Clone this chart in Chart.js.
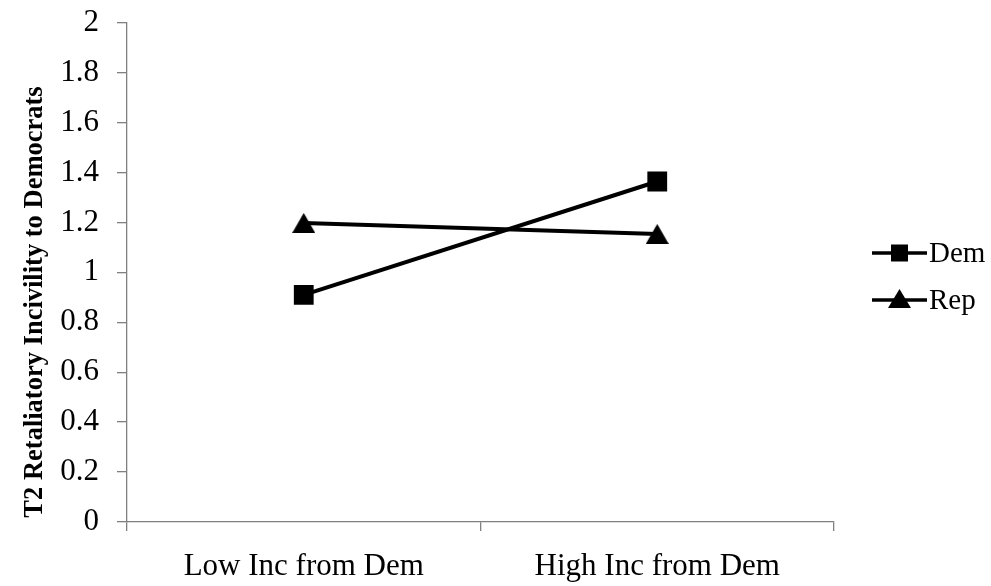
<!DOCTYPE html>
<html>
<head>
<meta charset="utf-8">
<script src="https://cdn.jsdelivr.net/npm/chart.js@4/dist/chart.umd.min.js"></script>
<style>
  html, body { margin: 0; padding: 0; background: #fff; }
  #wrap { width: 991px; height: 586px; }
</style>
</head>
<body>
<div id="wrap"><canvas id="chart" width="991" height="586"></canvas></div>
<script>
// values
const categories = ["Low Inc from Dem", "High Inc from Dem"];
const demValues = [0.91, 1.364];
const repValues = [1.198, 1.154];
const yTicks = [0, 0.2, 0.4, 0.6, 0.8, 1, 1.2, 1.4, 1.6, 1.8, 2];
const yTitle = "T2 Retaliatory Incivility to Democrats";

const serif = "'Liberation Serif', 'Times New Roman', serif";

// triangle marker centred in its own box (Excel puts the middle on the line)
function makeTriangle(w, h) {
  const c = document.createElement("canvas");
  c.width = w;
  c.height = h;
  const g = c.getContext("2d");
  g.fillStyle = "#000";
  g.beginPath();
  g.moveTo(w / 2, 0);
  g.lineTo(w, h);
  g.lineTo(0, h);
  g.closePath();
  g.fill();
  return c;
}
const triPlot = makeTriangle(23, 20);

// legend + rotated axis title drawn by hand
const extras = {
  id: "extras",
  afterDraw(chart) {
    const ctx = chart.ctx;
    ctx.save();
    ctx.font = "bold 26.5px " + serif;
    ctx.fillStyle = "#000";
    ctx.textAlign = "center";
    ctx.textBaseline = "alphabetic";
    ctx.translate(42, 302);
    ctx.rotate(-Math.PI / 2);
    ctx.fillText(yTitle, 0, 0);
    ctx.restore();

    ctx.save();
    const x0 = 872;
    const rowY = [253, 300];
    chart.data.datasets.forEach((ds, i) => {
      const y = rowY[i];
      ctx.strokeStyle = ds.borderColor;
      ctx.lineWidth = 3.5;
      ctx.beginPath();
      ctx.moveTo(x0, y);
      ctx.lineTo(x0 + 55, y);
      ctx.stroke();
      ctx.fillStyle = "#000";
      if (ds.pointStyle === "rect") {
        ctx.fillRect(x0 + 19, y - 8.5, 17, 17);
      } else {
        ctx.beginPath();
        ctx.moveTo(x0 + 27.5, y - 11);
        ctx.lineTo(x0 + 39, y + 8);
        ctx.lineTo(x0 + 16, y + 8);
        ctx.closePath();
        ctx.fill();
      }
      ctx.font = "29px " + serif;
      ctx.textAlign = "left";
      ctx.textBaseline = "middle";
      ctx.fillText(ds.label, x0 + 57, y + 1);
    });
    ctx.restore();
  }
};

const data = {
  labels: categories,
  datasets: [
    {
      label: "Dem",
      data: demValues,
      borderColor: "#000",
      backgroundColor: "#000",
      pointBackgroundColor: "#000",
      pointBorderColor: "#000",
      pointBorderWidth: 0,
      pointStyle: "rect",
      pointRadius: 14,
      borderWidth: 4,
      tension: 0
    },
    {
      label: "Rep",
      data: repValues,
      borderColor: "#000",
      backgroundColor: "#000",
      pointBackgroundColor: "#000",
      pointBorderColor: "#000",
      pointStyle: triPlot,
      pointRadius: 12,
      borderWidth: 4,
      tension: 0
    }
  ]
};

const config = {
  type: "line",
  data: data,
  options: {
    responsive: false,
    animation: false,
    layout: { padding: { left: 0, right: 157, top: 22.7, bottom: 0 } },
    plugins: {
      legend: { display: false },
      tooltip: { enabled: false }
    },
    scales: {
      x: {
        offset: true,
        afterFit(scale) {
          scale.height = 64;
        },
        grid: {
          offset: true,
          drawOnChartArea: false,
          drawTicks: true,
          tickLength: 9,
          color: "#808080",
          lineWidth: 1.3
        },
        border: { color: "#808080", width: 1.3 },
        ticks: {
          color: "#000",
          font: { family: serif, size: 31 },
          padding: 17,
          maxRotation: 0
        }
      },
      y: {
        min: 0,
        max: 2,
        afterBuildTicks(scale) {
          scale.ticks = yTicks.map(v => ({ value: v }));
        },
        afterFit(scale) {
          scale.width = 127;
          scale.paddingTop = 0;
          scale.paddingBottom = 0;
        },
        grid: {
          drawOnChartArea: false,
          drawTicks: true,
          tickLength: 10,
          color: "#808080",
          lineWidth: 1.3
        },
        border: { color: "#808080", width: 1.3 },
        ticks: {
          color: "#000",
          font: { family: serif, size: 31 },
          padding: 18,
          callback: v => String(Math.round(v * 10) / 10)
        }
      }
    }
  },
  plugins: [extras]
};

const myChart = new Chart(document.getElementById("chart"), config);
</script>
</body>
</html>
